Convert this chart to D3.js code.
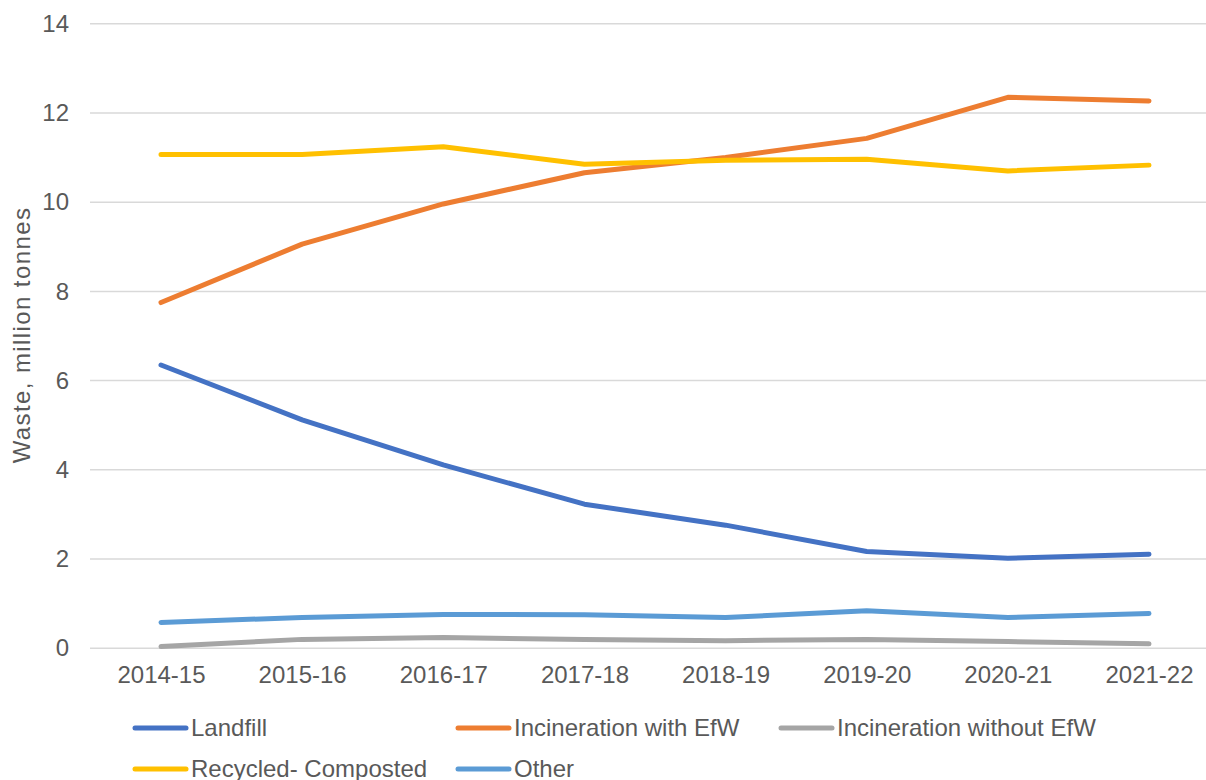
<!DOCTYPE html>
<html>
<head>
<meta charset="utf-8">
<script src="https://cdn.jsdelivr.net/npm/d3@7"></script>
<style>
  html, body { margin: 0; padding: 0; background: #fff; overflow: hidden; }
  text { font-family: "Liberation Sans", Arial, sans-serif; fill: #595959; }
</style>
</head>
<body>
<script>
var years = ["2014-15", "2015-16", "2016-17", "2017-18", "2018-19", "2019-20", "2020-21", "2021-22"];
var landfill = [6.35, 5.12, 4.11, 3.23, 2.76, 2.17, 2.02, 2.11];
var incinWithEfW = [7.75, 9.06, 9.96, 10.66, 11.0, 11.43, 12.35, 12.27];
var incinWithoutEfW = [0.04, 0.2, 0.24, 0.2, 0.17, 0.2, 0.15, 0.1];
var recycled = [11.07, 11.07, 11.24, 10.85, 10.94, 10.96, 10.70, 10.83];
var other = [0.58, 0.69, 0.76, 0.75, 0.69, 0.84, 0.69, 0.78];
var yTicks = [0, 2, 4, 6, 8, 10, 12, 14];

var series = [
  {name: "Landfill", values: landfill, color: "#4472C4"},
  {name: "Incineration with EfW", values: incinWithEfW, color: "#ED7D31"},
  {name: "Incineration without EfW", values: incinWithoutEfW, color: "#A5A5A5"},
  {name: "Recycled- Composted", values: recycled, color: "#FFC000"},
  {name: "Other", values: other, color: "#5B9BD5"}
];

var W = 1206, H = 780;
var svg = d3.select("body").append("svg").attr("width", W).attr("height", H);

var x = d3.scalePoint().domain(years).range([161, 1149]);
var y = d3.scaleLinear().domain([0, 14]).range([648.3, 23.7]);

// gridlines
svg.append("g").selectAll("line")
  .data(yTicks)
  .enter().append("line")
  .attr("x1", 90).attr("x2", 1222)
  .attr("y1", function(d){ return y(d); })
  .attr("y2", function(d){ return y(d); })
  .attr("stroke", "#d9d9d9")
  .attr("stroke-width", 1.5);

// y axis labels
var yAxis = d3.axisLeft(y).tickValues(yTicks).tickSize(0).tickPadding(0);
var yg = svg.append("g").attr("transform", "translate(69,0)").call(yAxis);
yg.select(".domain").remove();
yg.selectAll("text").attr("font-size", 24).attr("fill", "#595959")
  .style("font-family", "'Liberation Sans', Arial, sans-serif");

// x axis labels
var xAxis = d3.axisBottom(x).tickSize(0).tickPadding(0);
var xg = svg.append("g").attr("transform", "translate(0,666)").call(xAxis);
xg.select(".domain").remove();
xg.selectAll("text").attr("font-size", 24).attr("fill", "#595959")
  .style("font-family", "'Liberation Sans', Arial, sans-serif");

// y title
svg.append("text")
  .attr("transform", "translate(30,335) rotate(-90)")
  .attr("text-anchor", "middle")
  .attr("font-size", 24)
  .attr("letter-spacing", 1.4)
  .text("Waste, million tonnes");

var line = d3.line()
  .x(function(d, i){ return x(years[i]); })
  .y(function(d){ return y(d); });

svg.append("g").selectAll("path")
  .data(series)
  .enter().append("path")
  .attr("fill", "none")
  .attr("stroke", function(d){ return d.color; })
  .attr("stroke-width", 5)
  .attr("stroke-linecap", "round")
  .attr("stroke-linejoin", "round")
  .attr("d", function(d){ return line(d.values); });

// legend
var legendPos = [
  {x: 133, y: 728}, {x: 456, y: 728}, {x: 779, y: 728},
  {x: 133, y: 769}, {x: 456, y: 769}
];
var lg = svg.append("g").selectAll("g")
  .data(series)
  .enter().append("g")
  .attr("transform", function(d, i){ return "translate(" + legendPos[i].x + "," + legendPos[i].y + ")"; });
lg.append("line")
  .attr("x1", 2).attr("x2", 53).attr("y1", 0).attr("y2", 0)
  .attr("stroke", function(d){ return d.color; })
  .attr("stroke-width", 5)
  .attr("stroke-linecap", "round");
lg.append("text")
  .attr("x", 58).attr("y", 0).attr("dy", "0.35em")
  .attr("font-size", 24)
  .text(function(d){ return d.name; });
</script>
</body>
</html>
